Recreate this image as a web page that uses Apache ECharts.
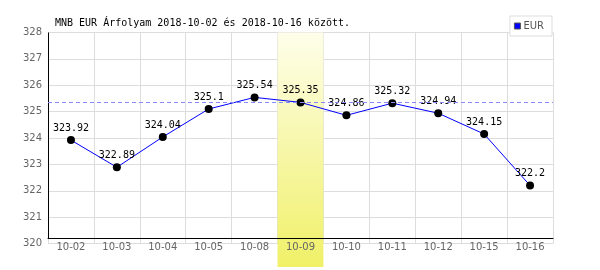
<!DOCTYPE html>
<html>
<head>
<meta charset="utf-8">
<script src="https://cdn.jsdelivr.net/npm/echarts@6/dist/echarts.min.js"></script>
<style>html,body{margin:0;padding:0;background:#fff}#c{width:600px;height:270px}</style>
</head>
<body>
<div id="c"></div>
<script>
var titleText = 'MNB EUR Árfolyam 2018-10-02 és 2018-10-16 között.';
var seriesName = 'EUR';
var categories = ['10-02','10-03','10-04','10-05','10-08','10-09','10-10','10-11','10-12','10-15','10-16'];
var values = [323.92, 322.89, 324.04, 325.1, 325.54, 325.35, 324.86, 325.32, 324.94, 324.15, 322.2];
var highlightDate = '10-09';
var yMin = 320, yMax = 328, yStep = 1;

var refValue = values[categories.indexOf(highlightDate)];
var mono = 'DejaVu Sans Mono';
var sans = 'DejaVu Sans';

var chart = echarts.init(document.getElementById('c'), null, {renderer: 'canvas'});
var option = {
  animation: false,
  backgroundColor: '#ffffff',
  title: {
    text: titleText, left: 50, top: 13,
    textStyle: {fontFamily: mono, fontSize: 10, fontWeight: 'normal', color: '#000'}
  },
  legend: {
    right: 48, top: 16, padding: [5, 8, 5, 4],
    backgroundColor: '#fff', borderColor: '#dddddd', borderWidth: 1, borderRadius: 0,
    icon: 'rect', itemWidth: 6, itemHeight: 6, itemGap: 4,
    textStyle: {fontFamily: sans, fontSize: 10, color: '#555', padding: [0,0,0,-2]},
    data: [{name: seriesName, itemStyle: {color: '#0000ff', borderColor: '#555', borderWidth: 1}}]
  },
  grid: {left: 48, right: 47, top: 32.5, bottom: 26.5},
  xAxis: [{
    type: 'category', position: 'bottom', data: categories, boundaryGap: true, z: 0,
    axisLine: {show: false}, axisTick: {show: false}, axisLabel: {show: false},
    splitLine: {show: true, lineStyle: {color: '#dddddd', width: 1}}
  }, {
    type: 'category', position: 'bottom', data: categories, boundaryGap: true, z: 3, offset: -5,
    axisLine: {show: true, onZero: false, lineStyle: {color: '#000', width: 1}},
    axisTick: {show: false},
    axisLabel: {margin: 4, fontFamily: sans, fontSize: 10, color: '#666'},
    splitLine: {show: false}
  }],
  yAxis: {
    type: 'value', min: yMin, max: yMax, interval: yStep, z: 0,
    axisLine: {show: false}, axisTick: {show: false},
    axisLabel: {margin: 6, fontFamily: sans, fontSize: 10, color: '#666'},
    splitLine: {show: true, lineStyle: {color: '#dddddd', width: 1}}
  },
  series: [{
    name: seriesName, type: 'line', data: values, z: 4,
    symbol: 'circle', symbolSize: 8,
    itemStyle: {color: '#000'},
    lineStyle: {color: '#0000ff', width: 1},
    label: {show: true, position: 'top', distance: 3, fontFamily: mono, fontSize: 10, color: '#000'},
    markLine: {
      silent: true, symbol: 'none', label: {show: false},
      lineStyle: {color: '#8888ff', type: [4, 3], width: 1},
      data: [{yAxis: refValue}]
    }
  }]
};
chart.setOption(option);

var rect = chart.getModel().getComponent('grid').coordinateSystem.getRect();
var cw = rect.width / categories.length;
var cx = chart.convertToPixel({xAxisIndex: 0}, highlightDate);
var yBottomAxis = chart.convertToPixel({yAxisIndex: 0}, yMin) - 5;
chart.setOption({
  graphic: [{
    type: 'rect', z: 1, silent: true,
    shape: {x: cx - cw / 2, y: rect.y, width: cw, height: 270 - rect.y - 3},
    style: {fill: new echarts.graphic.LinearGradient(0, 0, 0, 1, [
      {offset: 0, color: '#fefeea'}, {offset: 1, color: '#f0f068'}])}
  }, {
    type: 'line', z: 3, silent: true,
    shape: {x1: rect.x + 0.5, y1: rect.y, x2: rect.x + 0.5, y2: yBottomAxis},
    style: {stroke: '#000', lineWidth: 1}
  }]
});
</script>
</body>
</html>
